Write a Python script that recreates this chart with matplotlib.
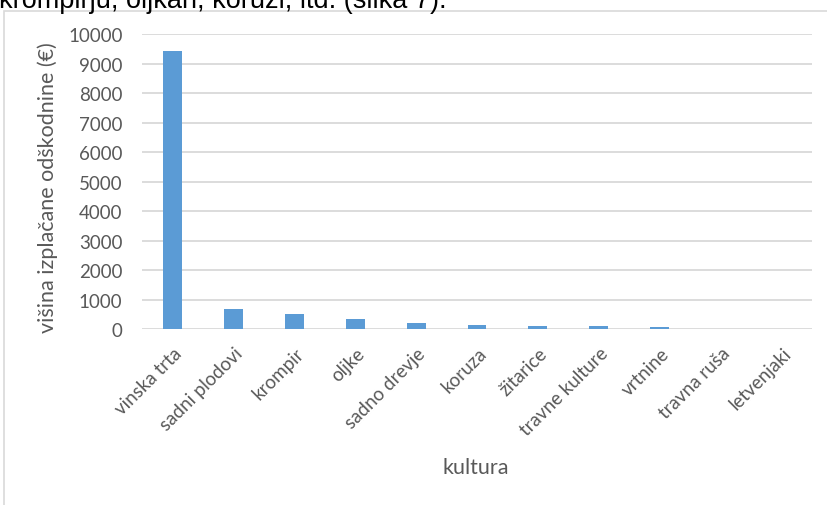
import matplotlib.pyplot as plt
from matplotlib.patches import Rectangle
import matplotlib.transforms as mtransforms

# data
kulture = ['vinska trta', 'sadni plodovi', 'krompir', 'oljke', 'sadno drevje',
           'koruza', 'žitarice', 'travne kulture', 'vrtnine', 'travna ruša', 'letvenjaki']
odskodnine = [9430, 670, 525, 330, 190, 120, 115, 85, 75, 5, 3]
y_ticks = [0, 1000, 2000, 3000, 4000, 5000, 6000, 7000, 8000, 9000, 10000]

W, H = 828, 506
plt.rcParams['font.family'] = ['Lato', 'DejaVu Sans']
fig = plt.figure(figsize=(W / 100, H / 100), dpi=100)

# cut-off text line above the chart
fig.text(-1 / W, 1 - 8 / H, 'krompirju, oljkah, koruzi, itd. (slika 7).',
         family=['Liberation Sans'], fontsize=19.5, color='black', va='baseline', ha='left')

# chart frame (continues past right and bottom edge)
fig.patches.append(Rectangle((4.5 / W, -0.1), 1.2, 1 - 11.5 / H + 0.1,
                             transform=fig.transFigure, fill=False,
                             edgecolor='#d9d9d9', linewidth=1.2))

ax = fig.add_axes([142 / W, 1 - 330 / H, (812 - 142) / W, (330 - 35.3) / H])
x = range(len(kulture))
ax.bar(x, odskodnine, width=0.31, color='#5b9bd5', zorder=3)
ax.set_xlim(-0.5, len(kulture) - 0.5)
ax.set_ylim(0, 10000)
ax.set_yticks(y_ticks)
ax.set_yticklabels([str(v) for v in y_ticks])
ax.yaxis.grid(True, color='#d9d9d9', linewidth=1.3, zorder=0)
for s in ax.spines.values():
    s.set_visible(False)
ax.tick_params(axis='both', length=0, labelcolor='#595959')
ax.tick_params(axis='y', pad=14, labelsize=13.5)

ax.set_xticks(list(x))
ax.set_xticklabels(kulture, rotation=45, ha='right', rotation_mode='anchor', fontsize=13.5)
offset = mtransforms.ScaledTranslation(0.5 / 72, -7.5 / 72, fig.dpi_scale_trans)
for lab in ax.get_xticklabels():
    lab.set_transform(lab.get_transform() + offset)

fig.text(476 / W, 1 - 468 / H, 'kultura', color='#595959', fontsize=15.5, ha='center', va='center')
fig.text(48 / W, 1 - 188 / H, 'višina izplačane odškodnine (€)', color='#595959',
         fontsize=15.5, rotation=90, ha='center', va='center')

fig.savefig('out.png', dpi=100)
